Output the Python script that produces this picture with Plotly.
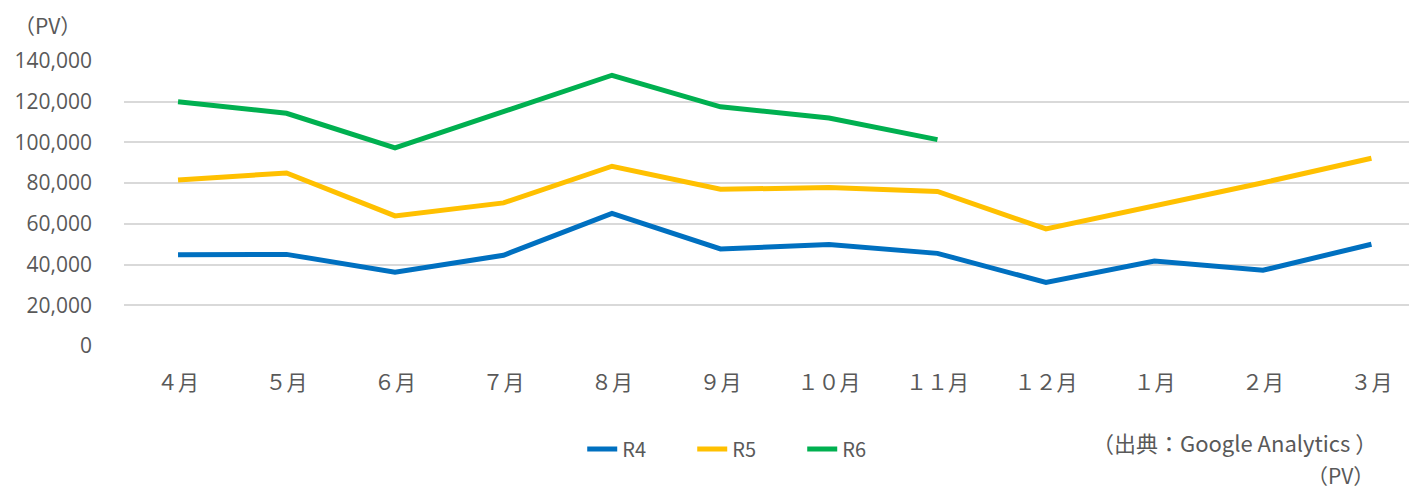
import plotly.graph_objects as go

months = ["４月", "５月", "６月", "７月", "８月", "９月", "１０月", "１１月", "１２月", "１月", "２月", "３月"]
r4 = [44800, 45000, 36200, 44600, 65100, 47700, 49800, 45500, 31200, 41700, 37200, 50000]
r5 = [81500, 85000, 63900, 70300, 88300, 77000, 77800, 75900, 57500, 68700, 80200, 92200]
r6 = [120000, 114300, 97300, 115000, 133000, 117500, 112000, 101400, None, None, None, None]
y_ticks = [0, 20000, 40000, 60000, 80000, 100000, 120000, 140000]

series = [("R4", r4, "#0070C0"), ("R5", r5, "#FFC000"), ("R6", r6, "#00B050")]

fig = go.Figure()
for name, vals, color in series:
    fig.add_trace(go.Scatter(
        x=months, y=vals, name=name, mode="lines",
        line=dict(color=color, width=5, shape="linear"),
        connectgaps=False,
    ))

gray = "#595959"
cjk = "Noto Sans CJK JP"
fig.update_layout(
    width=1409, height=487,
    margin=dict(l=116, r=0, t=53, b=149),
    paper_bgcolor="white", plot_bgcolor="white",
    showlegend=True,
    legend=dict(
        orientation="h", x=0.482, xanchor="center", y=-0.361, yanchor="middle",
        font=dict(family=cjk, size=20, color=gray),
        entrywidth=65, entrywidthmode="pixels", tracegroupgap=0,
    ),
    xaxis=dict(
        type="category", range=[-0.498, 11.42],
        showgrid=False, zeroline=False, showline=False,
        tickfont=dict(family=cjk, size=21, color=gray),
        ticks="", ticklabelstandoff=22,
    ),
    yaxis=dict(
        range=[0, 140000], tickvals=y_ticks,
        tickformat=",", showgrid=True, gridcolor="#D9D9D9", gridwidth=1.5,
        zeroline=False, showline=False,
        tickfont=dict(family="Open Sans", size=21, color=gray),
        ticks="", ticklabelstandoff=31,
    ),
    annotations=[
        dict(text="（PV）", xref="paper", yref="paper", x=-0.0588, y=1.126, xanchor="center", yanchor="middle",
             showarrow=False, font=dict(family=cjk, size=21, color=gray)),
        dict(text="（出典：Google Analytics ）", xref="paper", yref="paper", x=0.859, y=-0.338,
             xanchor="center", yanchor="middle", showarrow=False,
             font=dict(family=cjk, size=22, color=gray)),
        dict(text="（PV）", xref="paper", yref="paper", x=0.941, y=-0.452,
             xanchor="center", yanchor="middle", showarrow=False,
             font=dict(family=cjk, size=21, color=gray)),
    ],
)

fig.write_html("out.html")
